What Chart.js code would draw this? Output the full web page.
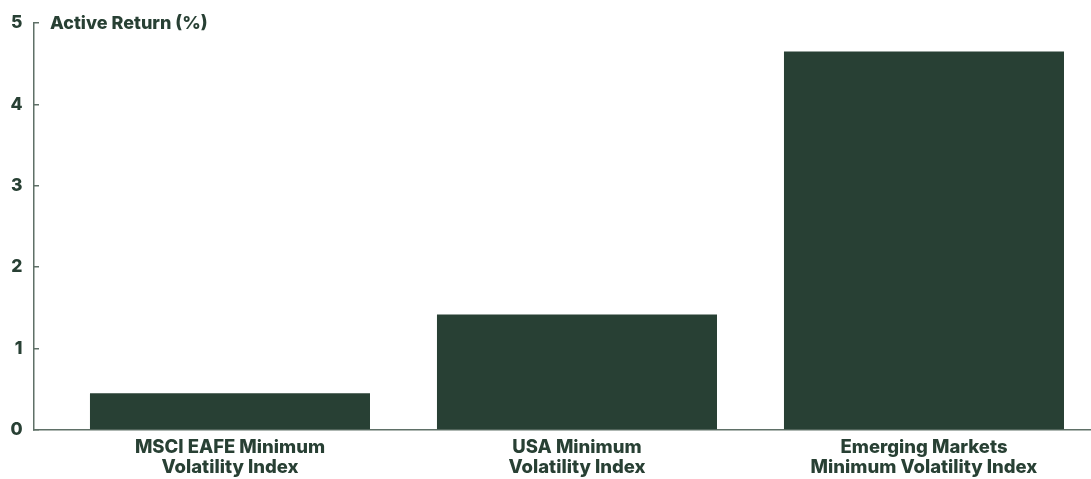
<!DOCTYPE html>
<html><head><meta charset="utf-8">
<script src="https://cdn.jsdelivr.net/npm/chart.js@4"></script>
<style>html,body{margin:0;padding:0;background:#fff;overflow:hidden}#wrap{width:1091px;height:479px;position:relative}</style>
</head><body><div id="wrap"><canvas id="c"></canvas></div>
<script>
const categories = [
  ["MSCI EAFE Minimum", "Volatility Index"],
  ["USA Minimum", "Volatility Index"],
  ["Emerging Markets", "Minimum Volatility Index"]
];
const activeReturn = [0.45, 1.42, 4.65];
const yTicks = [0, 1, 2, 3, 4, 5];
const yTitle = "Active Return (%)";

const INK = "#284034";
const AXIS = "#5f7067";
const FONT = "Inter, 'DejaVu Sans', sans-serif";

const titlePlugin = {
  id: 'yTitle',
  afterDraw(chart) {
    const y = chart.scales.y;
    const ctx = chart.ctx;
    ctx.save();
    ctx.font = "800 18px " + FONT;
    ctx.fillStyle = INK;
    ctx.textBaseline = "middle";
    ctx.textAlign = "left";
    ctx.fillText(yTitle, chart.chartArea.left + 16, y.getPixelForValue(yTicks[yTicks.length - 1]) + 0.5);
    ctx.restore();
  }
};

new Chart(document.getElementById('c'), {
  type: 'bar',
  data: {
    datasets: [{
      data: activeReturn.map((v, i) => ({x: i, y: v})),
      backgroundColor: INK,
      borderWidth: 0,
      barPercentage: 0.807,
      categoryPercentage: 1
    }]
  },
  plugins: [titlePlugin],
  options: {
    responsive: true,
    maintainAspectRatio: false,
    animation: false,
    layout: {padding: {top: 23, right: 0, bottom: 0, left: 0}},
    plugins: {legend: {display: false}, tooltip: {enabled: false}},
    scales: {
      x: {
        type: 'linear',
        offset: false,
        min: -0.5648,
        max: 2.4813,
        grid: {display: false, drawTicks: false},
        border: {display: true, color: AXIS, width: 1.5},
        afterBuildTicks: s => { s.ticks = categories.map((_, i) => ({value: i})); },
        afterFit: s => { s.height = 49; },
        ticks: {
          autoSkip: false, maxRotation: 0, padding: 7.5,
          color: INK,
          font: {family: FONT, size: 18.5, weight: '800', lineHeight: 1.08},
          callback: v => categories[v]
        }
      },
      y: {
        min: yTicks[0],
        max: yTicks[yTicks.length - 1],
        afterBuildTicks: s => { s.ticks = yTicks.map(v => ({value: v})); },
        grid: {drawOnChartArea: false, drawTicks: true, tickLength: -5, color: AXIS, lineWidth: 1.5},
        border: {display: true, color: AXIS, width: 1.5},
        afterFit: s => { s.width = 34; },
        ticks: {
          padding: 16.5,
          color: INK,
          font: {family: FONT, size: 17.5, weight: '800', lineHeight: 0.5}
        }
      }
    }
  }
});
</script></body></html>
